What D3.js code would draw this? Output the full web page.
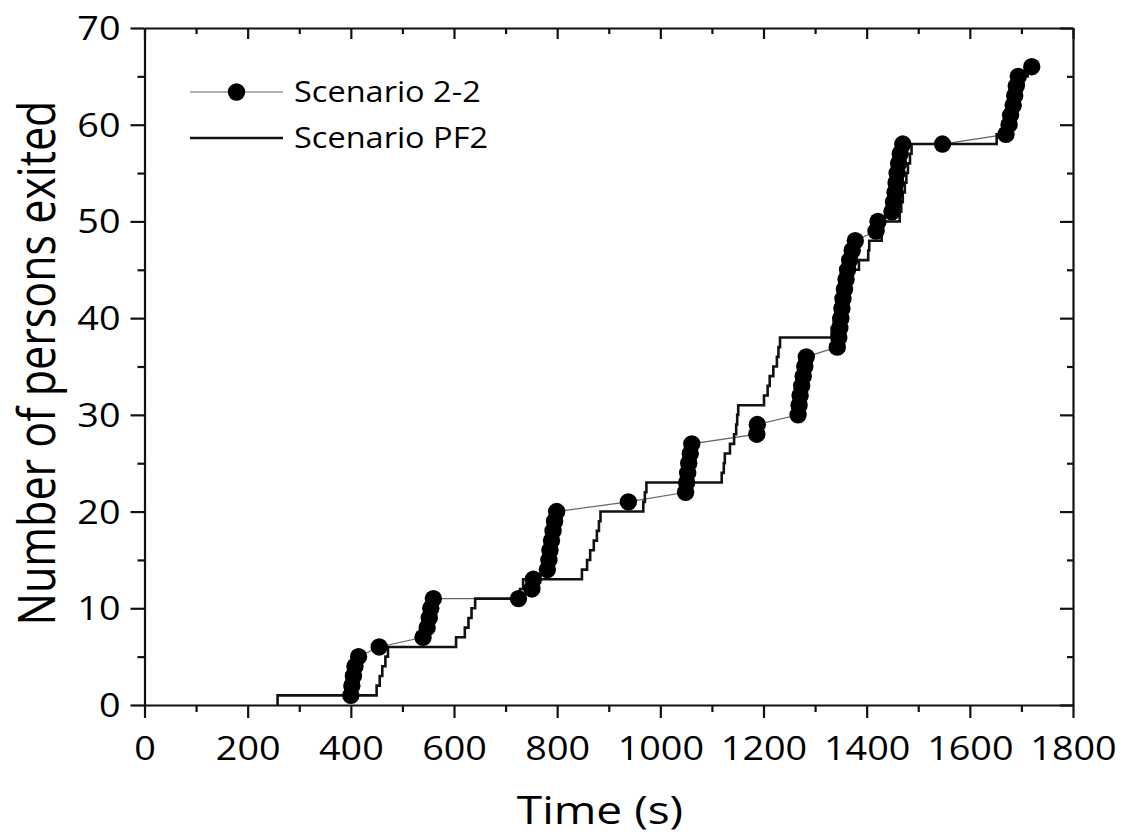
<!DOCTYPE html>
<html><head><meta charset="utf-8">
<script src="https://cdn.jsdelivr.net/npm/d3@7"></script>
<style>
html,body{margin:0;padding:0;background:#fff;}
svg{display:block;}
text{font-family:"Open Sans",sans-serif;fill:#000;}
</style></head>
<body>
<svg id="chart" width="1127" height="838"></svg>
<script>
// ---- data ----
const xTickValues = [0,200,400,600,800,1000,1200,1400,1600,1800];
const yTickValues = [0,10,20,30,40,50,60,70];
const seriesNames = ["Scenario 2-2","Scenario PF2"];

// Scenario 2-2 (markers joined by a thin line)
const s22Time = [400,402,405,408,415,455,540,548,552,555,560,725,751,754,
  781,784,786,789,792,795,799,938,1049,1051,1053,1055,1058,1061,1187,1188,
  1267,1269,1271,1274,1277,1280,1283,1343,1346,1348,1350,1352,1354,1357,1360,
  1363,1367,1372,1378,1418,1422,1449,1452,1455,1457,1459,1462,1465,1470,1547,
  1670,1676,1679,1684,1687,1690,1694,1720];
const s22Count = [1,2,3,4,5,6,7,8,9,10,11,11,12,13,
  14,15,16,17,18,19,20,21,22,23,24,25,26,27,28,29,
  30,31,32,33,34,35,36,37,38,39,40,41,42,43,44,
  45,46,47,48,49,50,51,52,53,54,55,56,57,58,58,
  59,60,61,62,63,64,65,66];

// Scenario PF2 (step line)
const pf2Time = [258,258,450,456,461,467,472,604,621,628,634,641,728,734,
  848,858,864,871,877,881,884,967,970,973,1119,1123,1125,1135,1143,1147,1149,1151,
  1201,1208,1212,1219,1226,1229,1232,1332,1336,1340,1345,1352,1360,1368,1385,
  1403,1405,1429,1432,1464,1467,1470,1474,1477,1480,1484,1487,1652,1668,1675,
  1682,1690,1697,1704,1712,1718];
const pf2Count = [0,1,2,3,4,5,6,7,8,9,10,11,12,13,
  14,15,16,17,18,19,20,21,22,23,24,25,26,27,28,29,30,31,
  32,33,34,35,36,37,38,39,40,41,42,43,44,45,46,
  47,48,49,50,51,52,53,54,55,56,57,58,59,60,61,
  62,63,64,65,66,66];

// ---- drawing ----
const SX = 1.18; // horizontal stretch of the reference's text
const svg = d3.select("#chart");
const L = 144.5, R = 1073, T = 28, B = 705;
const x = d3.scaleLinear().domain([0,1800]).range([L,R]);
const y = d3.scaleLinear().domain([0,70]).range([B,T]);
const fmt = d3.format("d");

const s22 = s22Time.map((t,i)=>({t, c:s22Count[i]}));
const pf2 = pf2Time.map((t,i)=>({t, c:pf2Count[i]}));

const plot = svg.append("g");
plot.append("path").datum(s22)
  .attr("fill","none").attr("stroke","#666").attr("stroke-width",1.2)
  .attr("d", d3.line().x(d=>x(d.t)).y(d=>y(d.c)));
plot.append("path").datum(pf2)
  .attr("fill","none").attr("stroke","#111").attr("stroke-width",2.6)
  .attr("stroke-linejoin","miter")
  .attr("d", d3.line().curve(d3.curveStepAfter).x(d=>x(d.t)).y(d=>y(d.c)));
plot.selectAll("circle.m").data(s22).join("circle")
  .attr("class","m").attr("cx",d=>x(d.t)).attr("cy",d=>y(d.c)).attr("r",8.7)
  .attr("fill","#000");

// ---- axes ----
function styleAxis(g){
  g.select(".domain").attr("stroke","#111").attr("stroke-width",2.2);
  g.selectAll(".tick line").attr("stroke","#111").attr("stroke-width",2.2);
}
function styleMinor(g){
  g.select(".domain").remove();
  g.selectAll(".tick line").attr("stroke","#111").attr("stroke-width",2.2);
}
const minorX = d3.range(100,1800,200);
const minorY = d3.range(5,70,10);

// bottom
const gb = svg.append("g").attr("transform",`translate(0,${B})`)
  .call(d3.axisBottom(x).tickValues(xTickValues).tickFormat(fmt).tickSize(13).tickSizeOuter(0));
styleAxis(gb);
gb.selectAll(".tick text").attr("y",55).attr("dy",null)
  .attr("font-size",32).attr("font-family","Open Sans").attr("fill","#000")
  .attr("transform",`scale(${SX},1)`);
svg.append("g").attr("transform",`translate(0,${B})`)
  .call(d3.axisBottom(x).tickValues(minorX).tickSize(7).tickFormat(""))
  .call(styleMinor);

// top
const gt = svg.append("g").attr("transform",`translate(0,${T})`)
  .call(d3.axisTop(x).tickValues(xTickValues).tickSize(-11).tickSizeOuter(0).tickFormat(""));
styleAxis(gt);
svg.append("g").attr("transform",`translate(0,${T})`)
  .call(d3.axisTop(x).tickValues(minorX).tickSize(-6).tickFormat(""))
  .call(styleMinor);

// left
const gl = svg.append("g").attr("transform",`translate(${L},0)`)
  .call(d3.axisLeft(y).tickValues(yTickValues).tickFormat(fmt).tickSize(14).tickSizeOuter(0));
styleAxis(gl);
gl.selectAll(".tick text").attr("x",-24/SX).attr("dy","0.36em")
  .attr("font-size",32).attr("font-family","Open Sans").attr("fill","#000")
  .attr("transform",`scale(${SX},1)`);
svg.append("g").attr("transform",`translate(${L},0)`)
  .call(d3.axisLeft(y).tickValues(minorY).tickSize(7).tickFormat(""))
  .call(styleMinor);

// right
const gr = svg.append("g").attr("transform",`translate(${R},0)`)
  .call(d3.axisRight(y).tickValues(yTickValues).tickSize(-13).tickSizeOuter(0).tickFormat(""));
styleAxis(gr);
svg.append("g").attr("transform",`translate(${R},0)`)
  .call(d3.axisRight(y).tickValues(minorY).tickSize(-6).tickFormat(""))
  .call(styleMinor);

// axis titles
svg.append("text").attr("transform",`translate(600,824) scale(${SX},1)`)
  .attr("text-anchor","middle").attr("font-size",39).text("Time (s)");
svg.append("text").attr("transform",`translate(55,363) scale(${SX},1) rotate(-90)`)
  .attr("text-anchor","middle").attr("font-size",43).text("Number of persons exited");

// legend
const lg = svg.append("g");
const leg1y = 92, leg2y = 138;
lg.append("line").attr("x1",190).attr("x2",283).attr("y1",leg1y).attr("y2",leg1y)
  .attr("stroke","#666").attr("stroke-width",1.2);
lg.append("circle").attr("cx",236.5).attr("cy",leg1y).attr("r",8.7).attr("fill","#000");
lg.append("line").attr("x1",190).attr("x2",283).attr("y1",leg2y).attr("y2",leg2y)
  .attr("stroke","#111").attr("stroke-width",2.6);
lg.selectAll("text.lt").data(seriesNames).join("text").attr("class","lt")
  .attr("transform",(d,i)=>`translate(294,${[leg1y,leg2y][i]}) scale(${SX*0.95},1)`)
  .attr("dy","0.36em").attr("font-size",29).text(d=>d);
</script>
</body></html>
